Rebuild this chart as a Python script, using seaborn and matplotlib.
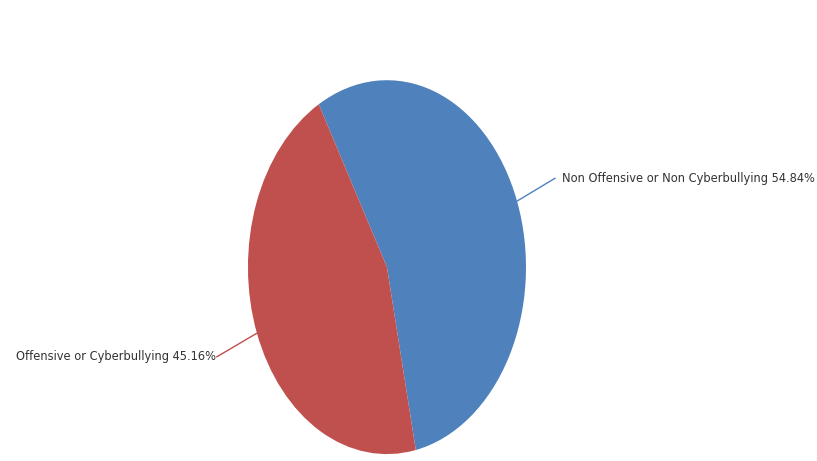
import seaborn as sns
import numpy as np
import matplotlib.pyplot as plt

labels = ['Non Offensive or Non Cyberbullying', 'Offensive or Cyberbullying']
shares = [54.84, 45.16]
colors = ['#4F81BD', '#C0504D']

sns.set_style('white')
plt.rcParams['font.family'] = ['DejaVu Sans']
plt.rcParams['font.stretch'] = 'condensed'

fig = plt.figure(figsize=(8.17, 4.61), dpi=100)
# pie is drawn stretched into an ellipse, like the original
ax = fig.add_axes([0.3035, 0.015, 0.3403, 0.811])
wedges, _ = ax.pie(shares, colors=colors, startangle=119.4, counterclock=False,
                   wedgeprops={'linewidth': 0})
ax.set_aspect('auto')
ax.set_xlim(-1, 1)
ax.set_ylim(-1, 1)
ax.axis('off')

# leader lines + labels
line_end = [(1.21, 0.476), (-1.225, -0.48)]
for w, lab, val, col, (tx, ty) in zip(wedges, labels, shares, colors, line_end):
    ang = np.deg2rad((w.theta1 + w.theta2) / 2)
    x, y = np.cos(ang), np.sin(ang)
    ax.plot([x, tx], [y, ty], color=col, lw=1, clip_on=False)
    if tx > 0:
        ax.text(tx + 0.05, ty, f'{lab} {val:.2f}%', ha='left', va='center',
                fontsize=9.2, color='#333333', fontstretch='condensed', clip_on=False)
    else:
        ax.text(tx - 0.005, ty, f'{lab} {val:.2f}%', ha='right', va='center',
                fontsize=9.2, color='#333333', fontstretch='condensed', clip_on=False)

fig.savefig('out.png', dpi=100)
